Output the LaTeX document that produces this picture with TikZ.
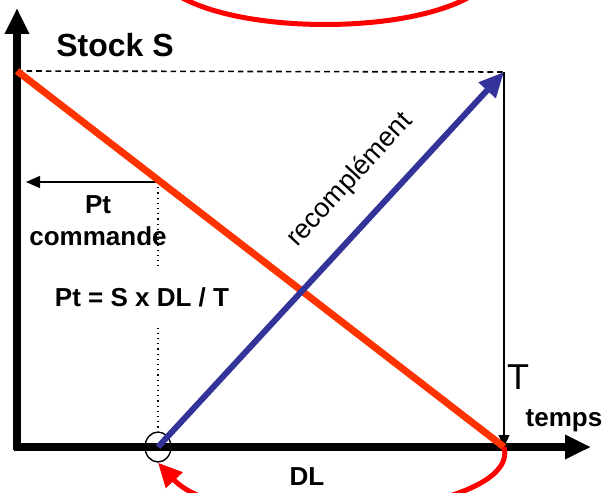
\documentclass[tikz,border=0pt]{standalone}
\usepackage{fontspec}
\setmainfont{Liberation Sans}
\usetikzlibrary{arrows.meta,shapes.geometric}

\begin{document}
\begin{tikzpicture}[x=0.5pt, y=-0.5pt,
	axis/.style={line width=3.6pt, -{Triangle[length=13pt, width=11.5pt]}},
	thinarrow/.style={line width=0.6pt, -{Triangle[length=7pt, width=6pt]}},
	lbl/.style={font=\bfseries\fontsize{13}{16}\selectfont, inner sep=0pt}]
	% Define custom colors
	\definecolor{stockline}{RGB}{255, 51, 0}
	\definecolor{refill}{RGB}{51, 51, 153}
	\definecolor{looparrow}{RGB}{255, 0, 0}
	\useasboundingbox (0, 0) rectangle (604, 492);
	\clip (0, 0) rectangle (604, 492);
	\coordinate (O) at (17, 447);
	\coordinate (Ybot) at (17, 450);
	\coordinate (Ytop) at (17, 8);
	\coordinate (Xbeg) at (14, 447);
	\coordinate (Xend) at (591, 447);
	\coordinate (S) at (17, 71);
	\coordinate (Smax) at (504, 72);
	\coordinate (Tend) at (504, 447);
	\coordinate (Order) at (158, 447);
	\coordinate (Ptop) at (158, 182);
	\coordinate (Pleft) at (26, 182);
	% axes
	\draw[axis] (Ybot) -- (Ytop);
	\draw[axis] (Xbeg) -- (Xend);
	% stock level S and period T
	\draw[line width=0.8pt, dash pattern=on 2.8pt off 2pt] (S) -- (Smax);
	\draw[thinarrow, -{Triangle[length=6pt, width=5.5pt]}] (Smax) -- (Tend);
	% order point
	\node[draw, ellipse, line width=0.7pt, minimum width=13pt, minimum height=15pt, inner sep=0pt] (mark) at (Order) {};
	\draw[line width=0.6pt, dotted] (Ptop) -- (mark.north);
	\draw[thinarrow] (Ptop) -- (Pleft);
	% consumption and refill
	\draw[stockline, line width=3.5pt] (S) -- (Tend);
	\draw[refill, line width=3pt, -{Triangle[length=12.5pt, width=11pt]}] (Order) -- (Smax);
	% red loops
	\draw[looparrow, line width=2.5pt, -{Triangle[length=12pt, width=11pt]}] (Tend) .. controls (522, 515) and (230, 540) .. (mark.south);
	\draw[looparrow, line width=2.5pt] (170, -10) .. controls (230, 36) and (420, 36) .. (480, -10);
	% labels
	\node[lbl, font=\bfseries\fontsize{16}{18}\selectfont] (stock) at (115, 45) {Stock S};
	\node[lbl, align=center] (pt) at (98, 221) {Pt\\commande};
	\node[lbl, fill=white, minimum height=27pt] (rule) at (142, 297) {Pt = S x DL / T};
	\node[font=\fontsize{13.5}{16}\selectfont, rotate=47.3] (refillname) at (350, 180) {recomplément};
	\node[font=\fontsize{18}{20}\selectfont, inner sep=0pt] (tlabel) at (518, 377) {T};
	\node[lbl] (temps) at (564, 421) {temps};
	\node[lbl] (dl) at (307, 477) {DL};
\end{tikzpicture}
\end{document}
